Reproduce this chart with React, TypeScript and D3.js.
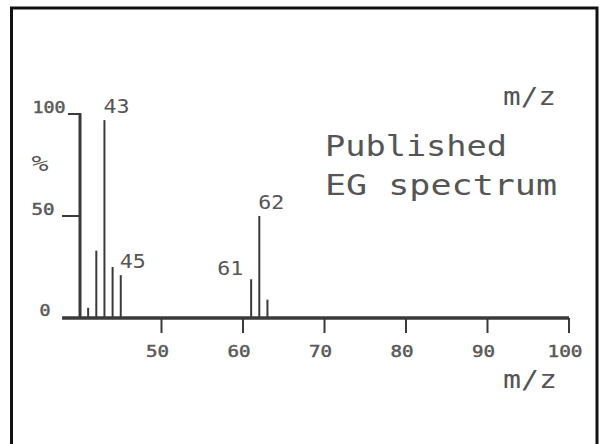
import React from "react";
import * as d3 from "d3";

// peaks
const massToCharge = [41, 42, 43, 44, 45, 61, 62, 63];
const relIntensity = [5, 33, 97, 25, 21, 19, 50, 9];

const peakLabels = ["43", "45", "61", "62"];
const xTicks = [50, 60, 70, 80, 90, 100];
const yTicks = [0, 50, 100];

const width = 600;
const height = 444;
const ink = "#3a3a3a";
const textInk = "#555";
const font = "'DejaVu Sans Mono', monospace";

const App = () => {
  const x = d3.scaleLinear().domain([40, 100]).range([80, 569]);
  const y = d3.scaleLinear().domain([0, 100]).range([318, 114]);

  const peaks = massToCharge.map((m, i) => ({ m, v: relIntensity[i] }));

  // which side of the stick the label sits on
  const labelSide: Record<string, "start" | "end"> = { "61": "end" };

  const tickText = {
    fontFamily: font,
    fontSize: 16,
    fill: "#5a5a5a",
    stroke: "#5a5a5a",
    strokeWidth: 0.5,
    lengthAdjust: "spacingAndGlyphs",
  } as const;

  return (
    <svg
      width={width}
      height={height}
      style={{ position: "absolute", left: 0, top: 0, background: "#fff" }}
    >
      <rect x={11.5} y={8} width={585.5} height={480} fill="none" stroke="#111" strokeWidth={3} />

      {/* baseline */}
      <line x1={x(37.8)} x2={x(100)} y1={y(0)} y2={y(0)} stroke={ink} strokeWidth={3.5} />
      {xTicks.map(t => (
        <g key={t}>
          <line x1={x(t)} x2={x(t)} y1={y(0)} y2={y(0) + 15} stroke={ink} strokeWidth={2} />
          <text x={x(t) - 4} y={357} textAnchor="middle" textLength={t === 100 ? 35 : 23} {...tickText}>
            {t}
          </text>
        </g>
      ))}

      {/* y axis */}
      <line x1={x(40)} x2={x(40)} y1={y(0)} y2={y(100) - 1} stroke={ink} strokeWidth={3} />
      <line x1={68} x2={x(40)} y1={y(100)} y2={y(100)} stroke={ink} strokeWidth={2} />
      <line x1={62} x2={x(40)} y1={y(50)} y2={y(50)} stroke={ink} strokeWidth={2} />
      {yTicks.map(t => (
        <text
          key={t}
          x={t === 0 ? 45 : t === 50 ? 43 : 49}
          y={y(t) - (t === 0 ? 2 : 1)}
          textAnchor="middle"
          textLength={t === 100 ? 33 : t === 50 ? 23 : 11}
          {...tickText}
        >
          {t}
        </text>
      ))}
      <text
        x={40}
        y={171}
        textAnchor="middle"
        fontFamily={font}
        fontSize={22}
        fontStyle="italic"
        fill={textInk}
        textLength={17}
        lengthAdjust="spacingAndGlyphs"
      >
        %
      </text>

      {/* sticks */}
      {peaks.map(p => (
        <line
          key={p.m}
          x1={x(p.m)}
          x2={x(p.m)}
          y1={y(0)}
          y2={y(p.v)}
          stroke={ink}
          strokeWidth={2}
        />
      ))}

      {peaks
        .filter(p => peakLabels.includes(String(p.m)))
        .map(p => {
          const side = labelSide[String(p.m)] || "start";
          return (
            <text
              key={"l" + p.m}
              x={side === "end" ? x(p.m) - 8 : x(p.m) - 1}
              y={y(p.v) - (side === "end" ? 4 : 7)}
              textAnchor={side}
              fontFamily={font}
              fontSize={20}
              fill={textInk}
              textLength={26}
              lengthAdjust="spacingAndGlyphs"
            >
              {p.m}
            </text>
          );
        })}

      {/* axis titles and note */}
      <text x={503} y={105} fontFamily={font} fontSize={24} fill={textInk} textLength={53} lengthAdjust="spacingAndGlyphs">
        m/z
      </text>
      <text x={503} y={388} fontFamily={font} fontSize={25} fill={textInk} textLength={54} lengthAdjust="spacingAndGlyphs">
        m/z
      </text>
      <text x={325} y={156} fontFamily={font} fontSize={28} fill={textInk} textLength={182} lengthAdjust="spacingAndGlyphs">
        Published
      </text>
      <text x={325} y={195} fontFamily={font} fontSize={28} fill={textInk} textLength={232} lengthAdjust="spacingAndGlyphs">
        EG spectrum
      </text>
    </svg>
  );
};

export default App;
